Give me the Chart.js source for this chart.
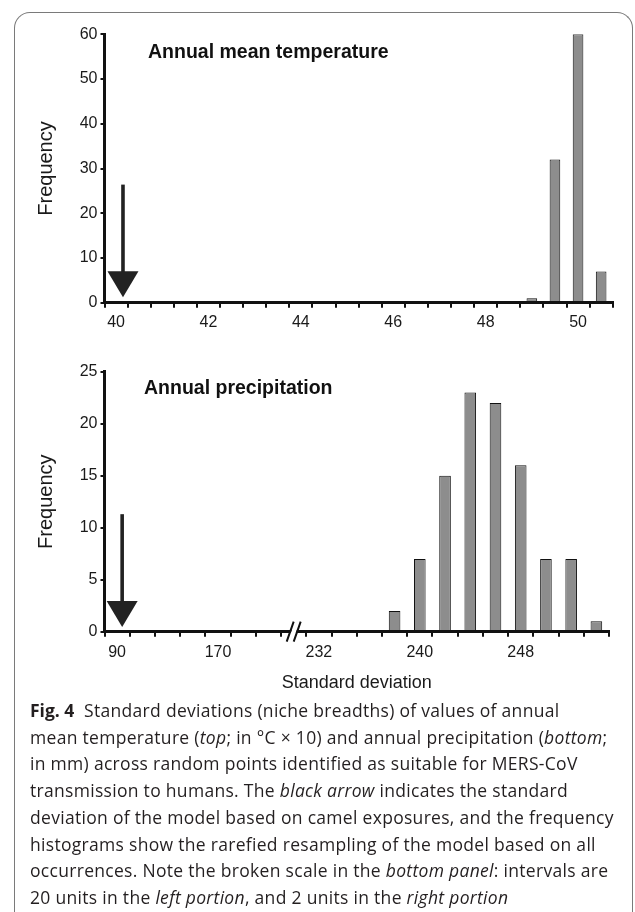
<!DOCTYPE html>
<html lang="en">
<head>
  <meta charset="UTF-8" />
  <title>Fig. 4 - niche breadths</title>
  <script src="https://cdn.jsdelivr.net/npm/chart.js"></script>
  <style>
    body {
      margin: 0;
      background: #fff;
      width: 635px;
      height: 912px;
      overflow: hidden;
      position: relative;
      font-family: 'Liberation Sans', Arial, sans-serif;
    }
    .frame {
      position: absolute;
      left: 14px;
      top: 12px;
      width: 617px;
      height: 920px;
      border: 1.5px solid #7a7a7a;
      border-bottom: none;
      border-radius: 16px 16px 0 0;
    }
    canvas { position: absolute; left: 0; }
    #tempChart { top: 0; }
    #precipChart { top: 340px; }
    .panel-title {
      position: absolute;
      font-weight: 700;
      font-size: 19.5px;
      color: #111;
      white-space: nowrap;
    }
    .caption {
      position: absolute;
      left: 30px;
      top: 697px;
      font-family: 'Open Sans', sans-serif;
      font-size: 17.5px;
      letter-spacing: 0.3px;
      line-height: 26.7px;
      color: #231f20;
    }
    .caption div { white-space: nowrap; }
    .caption b { font-weight: 700; letter-spacing: 0; }
  </style>
</head>
<body>
  <div class="frame"></div>

  <canvas id="tempChart" width="635" height="345"></canvas>
  <canvas id="precipChart" width="635" height="360"></canvas>

  <div class="panel-title" style="left:148px; top:40px;">Annual mean temperature</div>
  <div class="panel-title" style="left:144px; top:376px;">Annual precipitation</div>

  <div class="caption">
    <div><b>Fig. 4</b>&nbsp; Standard deviations (niche breadths) of values of annual</div>
    <div>mean temperature (<i>top</i>; in °C × 10) and annual precipitation (<i>bottom</i>;</div>
    <div>in mm) across random points identified as suitable for MERS-CoV</div>
    <div>transmission to humans. The <i>black arrow</i> indicates the standard</div>
    <div>deviation of the model based on camel exposures, and the frequency</div>
    <div>histograms show the rarefied resampling of the model based on all</div>
    <div>occurrences. Note the broken scale in the <i>bottom panel</i>: intervals are</div>
    <div>20 units in the <i>left portion</i>, and 2 units in the <i>right portion</i></div>
  </div>

  <script>
    // top panel: annual mean temperature (°C x 10), bins of 0.5
    const tempBins = ['40', '40.5', '41', '41.5', '42', '42.5', '43', '43.5', '44', '44.5', '45',
                      '45.5', '46', '46.5', '47', '47.5', '48', '48.5', '49', '49.5', '50', '50.5'];
    const tempFreq = [0, 0, 0, 0, 0, 0, 0, 0, 0, 0, 0, 0, 0, 0, 0, 0, 0, 0, 1, 32, 60, 7];
    const tempArrow = 40.15;       // camel-exposure model SD
    const tempArrowTop = 26.4;
    const tempArrowTip = 1.2;

    // bottom panel: annual precipitation (mm), broken scale ('' = the break)
    const precipBins = ['90', '110', '130', '150', '170', '190', '210', '',
                        '232', '234', '236', '238', '240', '242', '244', '246', '248', '250', '252', '254'];
    const precipFreq = [0, 0, 0, 0, 0, 0, 0, 0, 0, 0, 0, 2, 7, 15, 23, 22, 16, 7, 7, 1];
    const precipArrow = 94;
    const precipArrowTop = 11.3;
    const precipArrowTip = 0.45;

    Chart.defaults.font.family = "'Liberation Sans', Arial, sans-serif";
    Chart.defaults.color = '#1a1a1a';

    const arrowPlugin = {
      id: 'arrow',
      afterDatasetsDraw(chart, args, opts) {
        const { ctx, scales: { x, y } } = chart;
        const px = x.getPixelForValue(opts.index);
        const yTop = y.getPixelForValue(opts.from);
        const yTip = y.getPixelForValue(opts.to);
        ctx.save();
        ctx.fillStyle = '#222';
        ctx.fillRect(px - 1.8, yTop, 3.6, yTip - yTop - 20);
        ctx.beginPath();
        ctx.moveTo(px - 15.5, yTip - 26);
        ctx.lineTo(px + 15.5, yTip - 26);
        ctx.lineTo(px, yTip);
        ctx.closePath();
        ctx.fill();
        ctx.restore();
      }
    };

    const breakPlugin = {
      id: 'axisBreak',
      afterDraw(chart, args, opts) {
        const { ctx, scales: { x, y } } = chart;
        const cx = x.getPixelForValue(opts.index);
        const cy = y.getPixelForValue(0);
        ctx.save();
        ctx.fillStyle = '#fff';
        ctx.beginPath();
        ctx.moveTo(cx - 6, cy + 10);
        ctx.lineTo(cx + 1, cy - 10);
        ctx.lineTo(cx + 6, cy - 10);
        ctx.lineTo(cx - 1, cy + 10);
        ctx.closePath();
        ctx.fill();
        ctx.strokeStyle = '#111';
        ctx.lineWidth = 2;
        ctx.beginPath();
        ctx.moveTo(cx - 7, cy + 10); ctx.lineTo(cx, cy - 10);
        ctx.moveTo(cx, cy + 10); ctx.lineTo(cx + 7, cy - 10);
        ctx.stroke();
        ctx.restore();
      }
    };

    function makeOptions(cfg) {
      return {
        responsive: false,
        animation: false,
        layout: { padding: { left: 0, top: cfg.top, right: cfg.right, bottom: 0 } },
        plugins: {
          legend: { display: false },
          tooltip: { enabled: false },
          arrow: cfg.arrow,
          axisBreak: cfg.brk
        },
        scales: {
          x: {
            type: 'category',
            offset: true,
            afterFit: s => { s.height = cfg.xHeight; },
            grid: { offset: true, drawOnChartArea: false, drawTicks: true, tickLength: 5,
                    color: '#111', lineWidth: 2, z: 1 },
            border: { display: true, color: '#111', width: 3, z: 1 },
            ticks: {
              autoSkip: false,
              maxRotation: 0,
              padding: cfg.xPad,
              font: { size: 16 },
              color: '#1a1a1a',
              callback: function (v, i) { return i % 4 === 0 ? this.getLabelForValue(v) : ''; }
            },
            title: cfg.xTitle
          },
          y: {
            min: 0,
            max: cfg.max,
            afterFit: s => { s.width = 104.5; },
            grid: { drawOnChartArea: false, drawTicks: true, tickLength: 4,
                    color: '#111', lineWidth: 2, z: 1 },
            border: { display: true, color: '#111', width: 3, z: 1 },
            ticks: { stepSize: cfg.step, padding: 3, font: { size: 16 }, color: '#1a1a1a' },
            title: {
              display: true,
              text: 'Frequency',
              font: { size: 20 },
              color: '#1a1a1a',
              padding: { top: 34, bottom: 0 }
            }
          }
        }
      };
    }

    function barDataset(values) {
      return {
        data: values,
        backgroundColor: '#8d8d8d',
        borderColor: '#111',
        borderWidth: 1,
        categoryPercentage: 1,
        barPercentage: 0.46
      };
    }

    new Chart(document.getElementById('tempChart'), {
      type: 'bar',
      data: { labels: tempBins, datasets: [barDataset(tempFreq)] },
      options: makeOptions({
        top: 34.3, right: 22.3, xHeight: 42.3, xPad: 5, max: 60, step: 10,
        xTitle: { display: false },
        arrow: {
          index: (tempArrow - Number(tempBins[0])) / 0.5,
          from: tempArrowTop, to: tempArrowTip
        },
        brk: false
      }),
      plugins: [arrowPlugin]
    });

    new Chart(document.getElementById('precipChart'), {
      type: 'bar',
      data: { labels: precipBins, datasets: [barDataset(precipFreq)] },
      options: makeOptions({
        top: 31.7, right: 26, xHeight: 68.3, xPad: 6, max: 25, step: 5,
        xTitle: {
          display: true,
          text: 'Standard deviation',
          font: { size: 18 },
          color: '#1a1a1a',
          padding: { top: 0, bottom: 6 }
        },
        arrow: {
          index: (precipArrow - Number(precipBins[0])) / 20,
          from: precipArrowTop, to: precipArrowTip
        },
        brk: { index: precipBins.indexOf('') }
      }),
      plugins: [arrowPlugin, breakPlugin]
    });
  </script>
</body>
</html>
